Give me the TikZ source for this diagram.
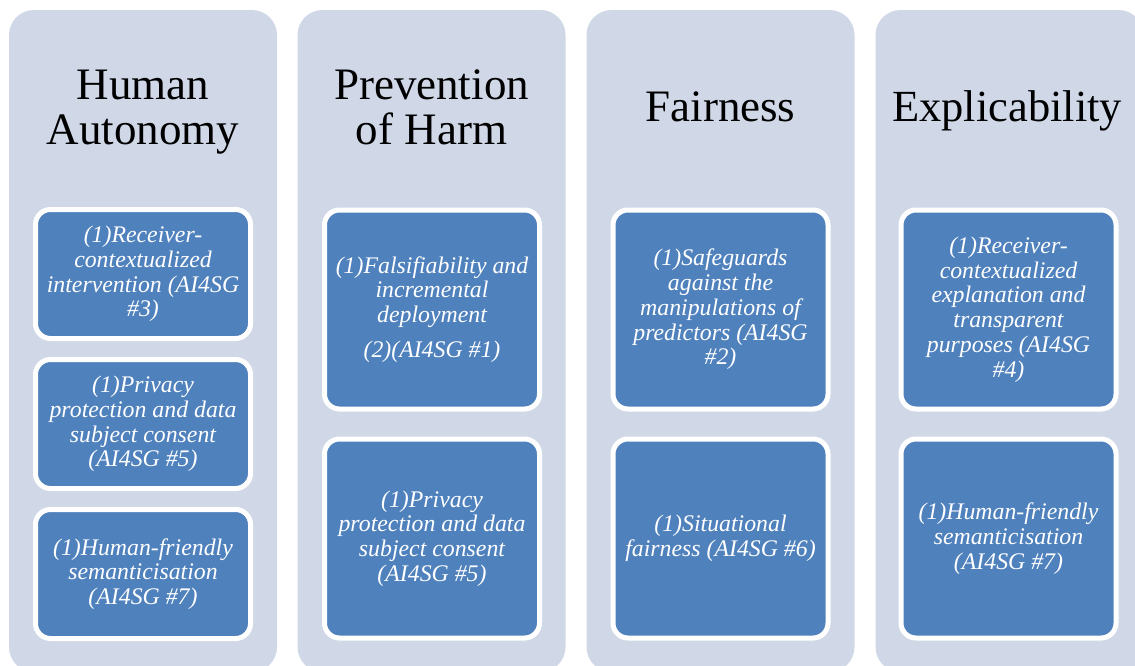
\documentclass[tikz,border=0pt]{standalone}
\usepackage{fontspec}
\setmainfont{Liberation Serif}
\definecolor{colbg}{HTML}{D0D8E8}
\definecolor{boxblue}{HTML}{4F81BD}
\begin{document}
\begin{tikzpicture}[x=1pt,y=-1pt,
  column/.style={fill=colbg, draw=none, rounded corners=25pt, minimum width=268pt, minimum height=662pt, inner sep=0pt},
  title/.style={align=center, font=\fontsize{45}{45}\selectfont, text=black, inner sep=0pt},
  item/.style={fill=boxblue, draw=white, line width=5pt, rounded corners=15pt, minimum width=215pt, inner sep=0pt, align=center, text=white, font=\fontsize{23.8}{24.8}\selectfont\itshape},
  short/.style={item, minimum height=129pt},
  tall/.style={item, minimum height=199pt}
]
\useasboundingbox (0,0) rectangle (1135,665);
\clip (0,0) rectangle (1135,665);
\fill[white] (0,0) rectangle (1135,665);

% columns
\node[column] (c1) at (143,341) {};
\node[column] (c2) at (431.5,341) {};
\node[column] (c3) at (720.5,341) {};
\node[column] (c4) at (1009.5,341) {};

% titles
\node[title] (t1) at (143,112) {Human\\Autonomy};
\node[title] (t2) at (431.5,107) {Prevention\\of Harm};
\node[title] (t3) at (720.5,106.5) {Fairness};
\node[title, font=\fontsize{44.5}{44.5}\selectfont] (t4) at (1007,111) {Explicability};

% column 1
\node[short] (a1) at (143,274) {(1)Receiver-\\contextualized\\intervention (AI4SG\\\#3)};
\node[short] (a2) at (143,424) {(1)Privacy\\protection and data\\subject consent\\(AI4SG \#5)};
\node[short] (a3) at (143,574) {(1)Human-friendly\\semanticisation\\(AI4SG \#7)};

% column 2
\node[tall] (b1) at (432,309.5) {(1)Falsifiability and\\incremental\\deployment\\[10pt](2)(AI4SG \#1)};
\node[tall] (b2) at (432,538.5) {(1)Privacy\\protection and data\\subject consent\\(AI4SG \#5)};

% column 3
\node[tall] (d1) at (720.5,309.5) {(1)Safeguards\\against the\\manipulations of\\predictors (AI4SG\\\#2)};
\node[tall] (d2) at (720.5,538.5) {(1)Situational\\fairness (AI4SG \#6)};

% column 4
\node[tall] (e1) at (1008.5,309.5) {(1)Receiver-\\contextualized\\explanation and\\transparent\\purposes (AI4SG\\\#4)};
\node[tall] (e2) at (1008.5,538.5) {(1)Human-friendly\\semanticisation\\(AI4SG \#7)};
\end{tikzpicture}
\end{document}
